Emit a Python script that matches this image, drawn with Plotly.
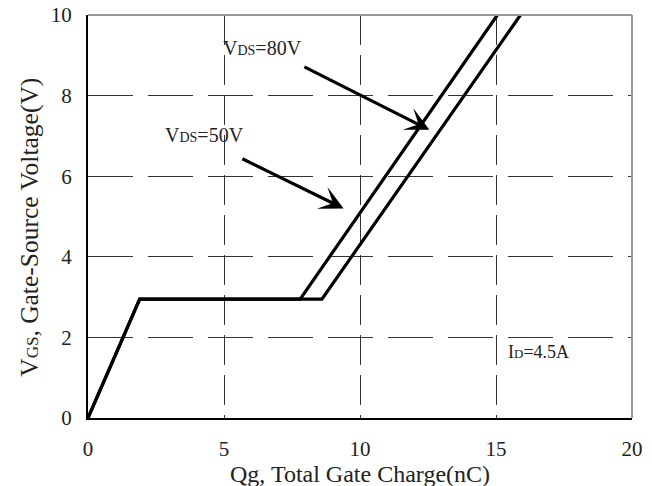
import plotly.graph_objects as go

# Data
qg_50v = [0.0, 1.9, 7.8, 15.05]
vgs_50v = [0.0, 2.95, 2.95, 10.0]
qg_80v = [0.0, 1.9, 8.6, 15.9]
vgs_80v = [0.0, 2.95, 2.95, 10.0]

x_ticks = [0, 5, 10, 15, 20]
y_ticks = [0, 2, 4, 6, 8, 10]

FONT = "Liberation Serif"
TXT = "#222"

fig = go.Figure()
for q, v, name in [(qg_50v, vgs_50v, "VDS=50V"), (qg_80v, vgs_80v, "VDS=80V")]:
    fig.add_trace(go.Scatter(x=q, y=v, mode="lines", name=name,
                             line=dict(color="black", width=3.2),
                             showlegend=False, cliponaxis=True))

annotations = [
    dict(x=12.55, y=7.15, ax=7.9, ay=8.73, axref="x", ayref="y", xref="x", yref="y",
         text="", showarrow=True, arrowhead=3, arrowsize=1.25, arrowwidth=3.2, arrowcolor="black"),
    dict(x=9.4, y=5.2, ax=5.62, ay=6.45, axref="x", ayref="y", xref="x", yref="y",
         text="", showarrow=True, arrowhead=3, arrowsize=1.25, arrowwidth=3.2, arrowcolor="black"),
    dict(x=6.4, y=9.18, xref="x", yref="y", showarrow=False,
         text="V<span style='font-size:14px'>DS</span>=80V",
         font=dict(family=FONT, size=20, color=TXT)),
    dict(x=4.3, y=7.02, xref="x", yref="y", showarrow=False,
         text="V<span style='font-size:14px'>DS</span>=50V",
         font=dict(family=FONT, size=20, color=TXT)),
    dict(x=16.55, y=1.64, xref="x", yref="y", showarrow=False,
         text="I<span style='font-size:13px'>D</span>=4.5A",
         font=dict(family=FONT, size=18, color=TXT)),
    # axis titles
    dict(x=0.5, y=-0.139, xref="paper", yref="paper", showarrow=False,
         xanchor="center", yanchor="middle",
         text="Qg, Total Gate Charge(nC)",
         font=dict(family=FONT, size=24, color=TXT)),
    dict(x=-0.107, y=0.474, xref="paper", yref="paper", showarrow=False,
         xanchor="center", yanchor="middle", textangle=-90,
         text="V<span style='font-size:17px'>GS</span>, Gate-Source Voltage(V)",
         font=dict(family=FONT, size=25.5, color=TXT)),
]

fig.update_layout(
    width=652, height=486,
    margin=dict(l=88, r=20, t=15, b=68),
    paper_bgcolor="white", plot_bgcolor="white",
    font=dict(family=FONT, size=21, color=TXT),
    annotations=annotations,
    shapes=[
        dict(type="line", xref="paper", yref="paper", x0=0, x1=1, y0=1, y1=1,
             line=dict(color="#999", width=2)),
        dict(type="line", xref="paper", yref="paper", x0=1, x1=1, y0=0, y1=1,
             line=dict(color="#999", width=2)),
    ],
)
fig.update_xaxes(range=[0, 20], tickvals=x_ticks, showgrid=True, automargin=False,
                 gridcolor="#333", gridwidth=1, griddash="30px,10px",
                 showline=True, linecolor="black", linewidth=2,
                 zeroline=False, ticks="", ticklabelstandoff=11,
                 tickfont=dict(family=FONT, size=21, color=TXT))
fig.update_yaxes(range=[0, 10], tickvals=y_ticks, showgrid=True, automargin=False,
                 gridcolor="#333", gridwidth=1, griddash="45px,15px",
                 showline=True, linecolor="black", linewidth=2,
                 zeroline=False, ticks="", ticklabelstandoff=10,
                 tickfont=dict(family=FONT, size=21, color=TXT))

fig.write_html("out.html", config={"displayModeBar": False},
               post_script="document.body.style.margin='0';document.body.style.overflow='hidden';")
